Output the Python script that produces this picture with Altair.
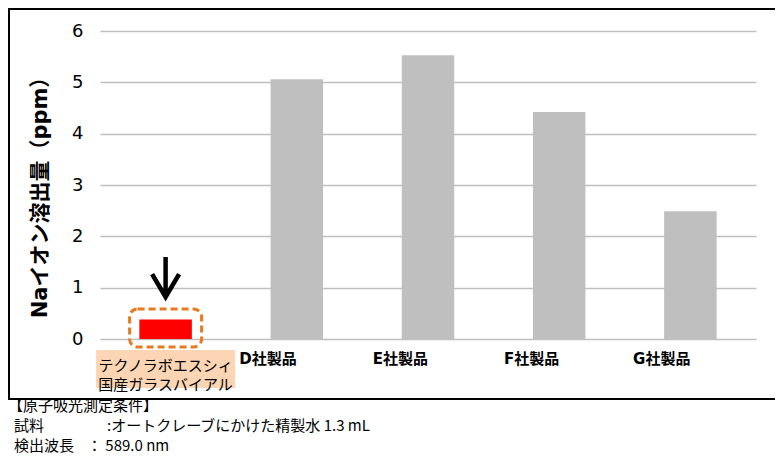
import altair as alt
import pandas as pd

categories = ["テクノラボエスシィ国産ガラスバイアル", "D社製品", "E社製品", "F社製品", "G社製品"]
values = [0.38, 5.06, 5.53, 4.42, 2.49]
bar_colors = ["#FF0000", "#BFBFBF", "#BFBFBF", "#BFBFBF", "#BFBFBF"]
first_label = "テクノラボエスシィ\n国産ガラスバイアル"
y_title = "Naイオン溶出量（ppm）"
y_ticks = [0, 1, 2, 3, 4, 5, 6]
note_title = "【原子吸光測定条件】"
note_keys = ["試料", "検出波長"]
note_vals = [":オートクレーブにかけた精製水 1.3 mL", "： 589.0 nm"]

FONT = "'DejaVu Sans', 'Noto Sans CJK JP', sans-serif"
JFONT = "'Noto Sans CJK JP', sans-serif"

df = pd.DataFrame({"cat": categories, "val": values, "col": bar_colors})
hl = pd.DataFrame({"cat": [categories[0]], "label": [first_label]})

xenc = alt.X("cat:N", sort=categories,
             scale=alt.Scale(paddingInner=0.6, paddingOuter=0.3),
             axis=alt.Axis(title=None, domain=False, ticks=False, labelAngle=0,
                           labelFontSize=15, labelFontWeight="bold", labelColor="#000",
                           labelFont=FONT, labelPadding=19,
                           labelExpr="datum.value == '%s' ? '' : datum.label" % categories[0]))

bars = alt.Chart(df).mark_bar().encode(
    x=xenc,
    y=alt.Y("val:Q", scale=alt.Scale(domain=[0, 6], nice=False),
            axis=alt.Axis(values=y_ticks, title=y_title, grid=True, gridColor="#BFBFBF",
                          gridWidth=1.5, domain=False, ticks=False, labelFontSize=18,
                          labelColor="#000", labelFont=FONT, labelPadding=17,
                          titleFont=FONT, titleFontSize=21, titleFontWeight="bold",
                          titleColor="#000", titleX=-60, titleY=161, titleAngle=270,
                          titleAlign="center", titleBaseline="middle")),
    color=alt.Color("col:N", scale=None),
)

base_hl = alt.Chart(hl)

peach = base_hl.mark_bar(width=139, color="#FCD5B4").encode(
    x=alt.X("cat:N", sort=categories), y=alt.value(319), y2=alt.value(357))

label_txt = base_hl.mark_text(fontSize=15, font=JFONT, color="#000", lineBreak="\n",
                              lineHeight=19, baseline="middle").encode(
    x=alt.X("cat:N", sort=categories), y=alt.value(335), text="label:N")

dash_box = base_hl.mark_bar(width=72, fillOpacity=0, stroke="#E8791E", strokeWidth=3,
                            strokeDash=[7, 4], cornerRadius=8).encode(
    x=alt.X("cat:N", sort=categories), y=alt.value(278), y2=alt.value(316))

arrow = base_hl.mark_point(shape="M0,-2.96L0,-0.2M-1,-1.7L0,0L1,-1.7", size=729,
                           filled=False, stroke="#000", strokeWidth=4.5,
                           strokeJoin="miter", opacity=1).encode(
    x=alt.X("cat:N", sort=categories), y=alt.value(266))

frame = alt.Chart(pd.DataFrame({"a": [0]})).mark_rect(fill=None, stroke="#000", strokeWidth=2).encode(
    x=alt.value(-91), x2=alt.value(700), y=alt.value(-22), y2=alt.value(368))

notes_df = pd.DataFrame({
    "t": [note_title, note_keys[0], note_vals[0], note_keys[1], note_vals[1]],
    "px": [-92, -86, 7, -86, -13],
    "py": [375, 395, 395, 415, 415],
})
notes = alt.Chart(notes_df).mark_text(align="left", baseline="middle", fontSize=15,
                                      font=JFONT, color="#000").encode(
    x=alt.X("px:Q", scale=None), y=alt.Y("py:Q", scale=None), text="t:N")

chart = alt.layer(peach, bars, label_txt, dash_box, arrow, frame, notes).properties(
    width=656, height=308,
    padding={"left": 92, "top": 23, "right": 19, "bottom": 126},
    autosize="none",
).configure_view(stroke=None)

chart.save("out.html", embed_options={"renderer": "svg", "actions": False})
